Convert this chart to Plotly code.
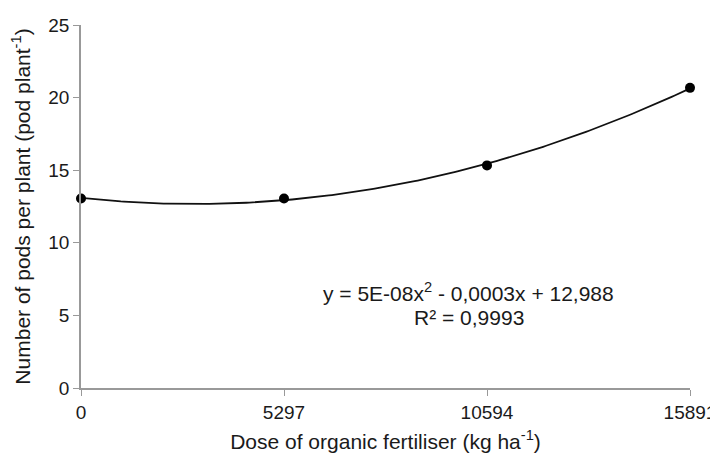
import numpy as np
import plotly.graph_objects as go

dose = [0, 5297, 10594, 15891]
pods = [13.05, 13.05, 15.33, 20.67]
x_ticks = [0, 5297, 10594, 15891]
y_ticks = [0, 5, 10, 15, 20, 25]
eq_lines = ["y = 5E-08x<sup>2</sup> - 0,0003x + 12,988", "R² = 0,9993"]

coef = np.polyfit(dose, pods, 2)
xs = np.linspace(0, 15891, 200)
ys = np.polyval(coef, xs)

FAM = "Liberation Sans, Arial, sans-serif"
TXT = "#1a1a1a"

fig = go.Figure()
fig.add_trace(go.Scatter(x=xs, y=ys, mode="lines",
                         line=dict(color="#111111", width=1.8), hoverinfo="skip"))
fig.add_trace(go.Scatter(x=dose, y=pods, mode="markers",
                         marker=dict(color="#000000", size=10), cliponaxis=False))

fig.update_layout(
    width=718, height=445,
    margin=dict(l=73, r=36, t=17, b=65),
    paper_bgcolor="white", plot_bgcolor="white",
    showlegend=False, font=dict(family=FAM, color=TXT, size=19),
    annotations=[
        dict(x=0.637, y=0.222, xref="paper", yref="paper", showarrow=False,
             text=eq_lines[0], font=dict(size=21, family=FAM, color=TXT)),
        dict(x=0.637, y=0.156, xref="paper", yref="paper", showarrow=False,
             text=eq_lines[1], font=dict(size=21, family=FAM, color=TXT)),
    ],
)
fig.update_xaxes(
    range=[0, 15891], tickvals=x_ticks, ticktext=[str(v) for v in x_ticks],
    showline=True, linecolor="#999999", linewidth=1.5, ticks="outside",
    ticklen=6, tickcolor="#999999", showgrid=False, zeroline=False,
    automargin=False, tickfont=dict(size=19),
    title=dict(text="Dose of organic fertiliser (kg ha<sup>-1</sup>)", standoff=14,
               font=dict(size=21)),
)
fig.update_yaxes(
    range=[0, 25], tickvals=y_ticks,
    showline=True, linecolor="#999999", linewidth=1.5, ticks="outside",
    ticklen=6, tickcolor="#999999", showgrid=False, zeroline=False,
    automargin=False, tickfont=dict(size=19),
    title=dict(text="Number of pods per plant (pod plant<sup>-1</sup>)", standoff=12,
               font=dict(size=21)),
)
fig.write_html("out.html")
